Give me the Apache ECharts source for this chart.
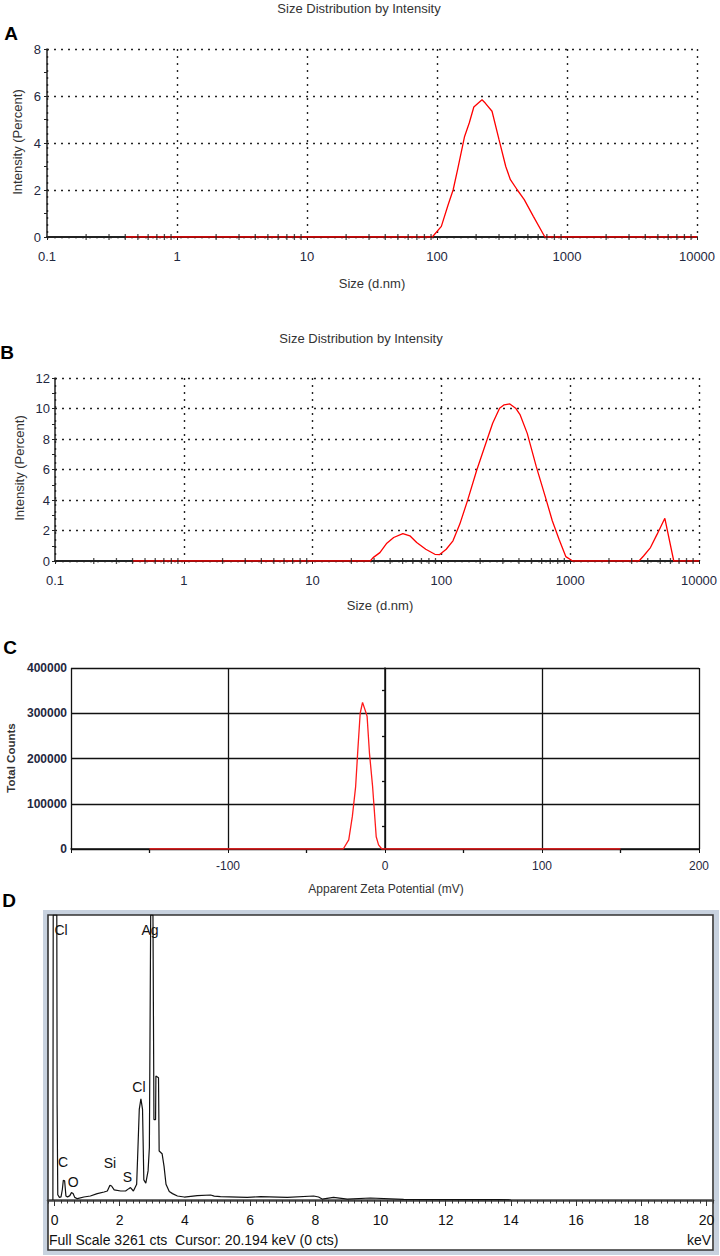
<!DOCTYPE html>
<html lang="en">
<head>
<meta charset="UTF-8">
<meta name="viewport" content="width=device-width, initial-scale=1.0">
<title>Size distribution, zeta potential and EDS spectrum</title>
<style>
    html, body {
        margin: 0;
        padding: 0;
        background: #fff;
    }
    #chart {
        width: 720px;
        height: 1256px;
    }
</style>
</head>
<body>
<div id="chart"></div>
<script src="https://cdn.jsdelivr.net/npm/echarts@6.0.0/dist/echarts.min.js"></script>
<script>
    // A: size distribution by intensity (size in d.nm, intensity in %)
    const sizeA = [0.4, 92, 108, 122, 133, 144, 163, 177, 192, 208, 222, 235, 265, 300, 338, 367, 415, 469, 551, 676, 10000];
    const intensityA = [0, 0, 0.45, 1.38, 2.0, 2.87, 4.28, 4.85, 5.53, 5.70, 5.84, 5.70, 5.35, 4.14, 3.0, 2.44, 2.0, 1.59, 0.88, 0, 0];

    // B: size distribution by intensity, second sample
    const sizeB = [0.4, 28, 29.5, 33.3, 37.7, 42.6, 50.2, 56.9, 64.3, 75.6, 89, 97, 109, 123, 139, 159.5, 188, 221, 250, 283,
        307, 340, 377, 409, 464, 546, 642, 726, 819, 924, 1046, 3420, 3711, 4200, 4733, 5430, 6370, 10000];
    const intensityB = [0, 0, 0.22, 0.55, 1.17, 1.54, 1.8, 1.65, 1.21, 0.77, 0.44, 0.42, 0.77, 1.32, 2.42, 3.96, 5.95, 7.71, 9.03, 10.02,
        10.24, 10.3, 10.02, 9.58, 8.37, 6.17, 4.19, 2.64, 1.43, 0.29, 0, 0, 0.33, 0.88, 1.76, 2.8, 0, 0];

    // C: apparent zeta potential (mV) vs total counts
    const zetaC = [-150, -26.6, -23.1, -20.8, -18.7, -17.3, -15.8, -14.3, -12.0, -11.4, -9.9, -7.9, -5.6, -4.1, -2.0, 150];
    const countsC = [0, 0, 20000, 72000, 138000, 219000, 300000, 324000, 300000, 293000, 212000, 138000, 27000, 9000, 0, 0];

    // D: EDS spectrum (keV vs counts), full scale 3261 cts
    const energyD = [-0.05, -0.04, 0.07, 0.08, 0.10, 0.15, 0.20, 0.24, 0.27, 0.31, 0.35, 0.40, 0.47, 0.52, 0.57, 0.62, 0.70, 0.90,
        1.10, 1.31, 1.52, 1.62, 1.70, 1.75, 1.83, 2.03, 2.18, 2.28, 2.33, 2.42, 2.52, 2.56, 2.60, 2.65, 2.70, 2.74, 2.80, 2.87,
        2.91, 2.95, 3.02, 3.05, 3.10, 3.11, 3.19, 3.21, 3.30, 3.36, 3.42, 3.52, 3.62, 3.77, 3.98, 4.38, 4.79, 4.90, 5.09, 5.91,
        6.32, 7.14, 7.95, 8.10, 8.21, 8.56, 8.98, 9.69, 10.71, 12.55, 13.60, 14.00];
    const countsD = [0, 3261, 3261, 1080, 60, 30, 35, 120, 226, 220, 46, 34, 50, 84, 75, 30, 15, 34,
        46, 73, 92, 103, 168, 160, 115, 103, 103, 130, 142, 103, 180, 600, 1036, 1158, 1036, 230, 192, 333,
        600, 3261, 3261, 920, 920, 1420, 1400, 560, 530, 384, 180, 96, 73, 46, 34, 50, 57, 45, 38, 31,
        38, 31, 46, 34, 11, 31, 11, 23, 8, 4, 6, 0];
    const edsFullScale = 3261;

    // element labels of the EDS peaks (keV, cts where the label sits)
    const edsPeakNames = ['Cl', 'Ag', 'Cl', 'C', 'O', 'Si', 'S'];
    const edsPeakKeV = [0.2, 2.93, 2.59, 0.26, 0.57, 1.70, 2.24];
    const edsPeakCts = [3090, 3090, 1290, 435, 206, 423, 263];

    // tick labels
    const sizeDecades = [0.1, 1, 10, 100, 1000, 10000];
    const sizeSubSteps = [2, 3, 4, 5, 6, 7, 8, 9];

    const FONT = '"Liberation Sans", Arial, sans-serif';
    const LABEL = '#1f2840';
    const zip = (xs, ys) => xs.map((x, i) => [x, ys[i]]);
    const plain = v => String(+(+v).toFixed(4));
    const dotted = { color: '#222', width: 1.4, type: [2, 5] };
    const solid = { color: '#111', width: 1.3, type: 'solid' };

    // little marks at 2..9 of every decade on the log axes
    const logMarks = sizeDecades.slice(0, -1).flatMap(d => sizeSubSteps.map(k => [d * k, 0]));

    function sizeXAxis(gridIndex) {
        return {
            gridIndex, type: 'log', logBase: 10, min: 0.1, max: 10000,
            axisLine: { show: true, onZero: false, lineStyle: { color: '#222', width: 2 } },
            axisTick: { show: true, length: 3, lineStyle: { color: '#222' } },
            axisLabel: { margin: 13, fontSize: 13, fontFamily: FONT, color: LABEL, formatter: plain },
            splitLine: { show: true, lineStyle: dotted }
        };
    }

    function percentYAxis(gridIndex, max, margin) {
        return {
            gridIndex, type: 'value', min: 0, max, interval: 2,
            axisLine: { show: true, lineStyle: { color: '#222', width: 1.5 } },
            axisTick: { show: true, length: 3, lineStyle: { color: '#222' } },
            minorTick: { show: true, splitNumber: 2, length: 3, lineStyle: { color: '#222' } },
            axisLabel: { margin, fontSize: 13, fontFamily: FONT, color: LABEL },
            splitLine: { show: true, lineStyle: dotted }
        };
    }

    function text(x, y, str, font, fill, extra) {
        return Object.assign({
            type: 'text', x, y, silent: true,
            style: {
                text: str, font, fill: fill || '#333',
                align: 'center', verticalAlign: 'middle',
                textAlign: 'center', textVerticalAlign: 'middle'
            }
        }, extra || {});
    }

    const chart = echarts.init(document.getElementById('chart'), null, { renderer: 'svg' });

    const option = {
        backgroundColor: '#fff',
        animation: false,
        grid: [
            { left: 47, top: 49, width: 650, height: 188, outerBoundsMode: 'none' },
            { left: 55, top: 378, width: 644, height: 183, outerBoundsMode: 'none' },
            { left: 71, top: 668, width: 628, height: 181, outerBoundsMode: 'none' },
            { left: 48, top: 915, width: 665, height: 285, outerBoundsMode: 'none' }
        ],
        xAxis: [
            sizeXAxis(0),
            sizeXAxis(1),
            {
                gridIndex: 2, type: 'value', min: -200, max: 200, interval: 100,
                axisLine: { show: true, onZero: false, lineStyle: { color: '#111', width: 1.5 } },
                axisTick: { show: true, length: 4, lineStyle: { color: '#111' } },
                minorTick: { show: true, splitNumber: 2, length: 4, lineStyle: { color: '#111', width: 1.3 } },
                axisLabel: { margin: 11, fontSize: 12, fontFamily: FONT, color: LABEL, showMinLabel: false, formatter: plain },
                splitLine: { show: true, lineStyle: solid }
            },
            {
                gridIndex: 3, type: 'value', position: 'bottom', min: -0.2, max: 20.2, splitNumber: 10,
                axisLine: { show: true, onZero: false, lineStyle: { color: '#444', width: 2.5 } },
                axisTick: { show: true, length: 6, lineStyle: { color: '#333' } },
                axisLabel: {
                    margin: 13, fontSize: 14, fontFamily: FONT, color: '#111',
                    showMinLabel: false, showMaxLabel: false,
                    formatter: v => (Number.isInteger(+v) ? String(+v) : '')
                },
                splitLine: { show: false }
            },
            {
                gridIndex: 3, type: 'value', position: 'bottom', min: -0.2, max: 20.2, interval: 0.2,
                axisLine: { show: false },
                axisTick: { show: true, length: 3.5, lineStyle: { color: '#333' } },
                axisLabel: { show: false },
                splitLine: { show: false }
            }
        ],
        yAxis: [
            percentYAxis(0, 8, 6),
            percentYAxis(1, 12, 5),
            {
                gridIndex: 2, type: 'value', min: 0, max: 400000, interval: 100000,
                axisLine: { show: true, lineStyle: { color: '#111', width: 1.5 } },
                axisTick: { show: true, length: 3, lineStyle: { color: '#111' } },
                minorTick: { show: true, splitNumber: 2, length: 3, lineStyle: { color: '#111', width: 1.3 } },
                axisLabel: { margin: 4, fontSize: 12, fontFamily: FONT, color: LABEL, fontWeight: 'bold', formatter: plain },
                splitLine: { show: true, lineStyle: solid }
            },
            { gridIndex: 3, type: 'value', min: 0, max: edsFullScale, show: false }
        ],
        series: [
            {
                type: 'line', xAxisIndex: 0, yAxisIndex: 0, data: zip(sizeA, intensityA),
                symbol: 'none', lineStyle: { color: '#ff0000', width: 1.3 }, z: 3
            },
            {
                type: 'scatter', xAxisIndex: 0, yAxisIndex: 0, data: logMarks, silent: true,
                symbol: 'rect', symbolSize: [1.3, 6], itemStyle: { color: '#222' }, z: 4
            },
            {
                type: 'line', xAxisIndex: 1, yAxisIndex: 1, data: zip(sizeB, intensityB),
                symbol: 'none', lineStyle: { color: '#ff0000', width: 1.3 }, z: 3
            },
            {
                type: 'scatter', xAxisIndex: 1, yAxisIndex: 1, data: logMarks, silent: true,
                symbol: 'rect', symbolSize: [1.3, 6], itemStyle: { color: '#222' }, z: 4
            },
            {
                type: 'line', xAxisIndex: 2, yAxisIndex: 2, data: zip(zetaC, countsC),
                symbol: 'none', lineStyle: { color: '#ff1a1a', width: 1.3 }, z: 3
            },
            {
                type: 'line', xAxisIndex: 3, yAxisIndex: 3, data: zip(energyD, countsD),
                symbol: 'none', clip: true, lineStyle: { color: '#111', width: 1.2 }, z: 3
            },
            {
                type: 'scatter', xAxisIndex: 3, yAxisIndex: 3, silent: true,
                data: edsPeakNames.map((n, i) => ({ name: n, value: [edsPeakKeV[i], edsPeakCts[i]] })),
                symbolSize: 1, itemStyle: { color: 'rgba(0,0,0,0)' },
                label: {
                    show: true, position: 'inside', formatter: '{b}', fontSize: 14, fontFamily: FONT,
                    color: '#111', textBorderWidth: 0, opacity: 1
                },
                z: 5
            }
        ],
        graphic: [
            // panel A
            text(359, 8, 'Size Distribution by Intensity', '13px ' + FONT),
            text(11, 33, 'A', 'bold 19px ' + FONT, '#000'),
            text(17, 142, 'Intensity (Percent)', '13px ' + FONT, '#333', { rotation: Math.PI / 2 }),
            text(372, 283, 'Size (d.nm)', '13px ' + FONT),
            // panel B
            text(361, 338, 'Size Distribution by Intensity', '13px ' + FONT),
            text(7, 352, 'B', 'bold 19px ' + FONT, '#000'),
            text(19, 468, 'Intensity (Percent)', '13px ' + FONT, '#333', { rotation: Math.PI / 2 }),
            text(380, 605, 'Size (d.nm)', '13px ' + FONT),
            // panel C
            text(10, 647, 'C', 'bold 19px ' + FONT, '#000'),
            text(11, 758, 'Total Counts', 'bold 11.5px ' + FONT, '#333', { rotation: Math.PI / 2 }),
            text(386, 889, 'Apparent Zeta Potential (mV)', '12px ' + FONT),
            // panel D frame
            {
                type: 'rect', z: -2, silent: true,
                shape: { x: 45.5, y: 912.5, width: 671, height: 340 },
                style: { fill: 'none', stroke: '#c8d2df', lineWidth: 5 }
            },
            {
                type: 'rect', z: -1, silent: true,
                shape: { x: 48, y: 915, width: 665, height: 335 },
                style: { fill: 'none', stroke: '#333', lineWidth: 1.6 }
            },
            text(9, 900, 'D', 'bold 19px ' + FONT, '#000'),
            {
                type: 'text', x: 49, y: 1240, silent: true,
                style: {
                    text: 'Full Scale 3261 cts  Cursor: 20.194 keV (0 cts)', font: '14px ' + FONT, fill: '#111',
                    align: 'left', verticalAlign: 'middle', textAlign: 'left', textVerticalAlign: 'middle'
                }
            },
            {
                type: 'text', x: 711, y: 1240, silent: true,
                style: {
                    text: 'keV', font: '14px ' + FONT, fill: '#111',
                    align: 'right', verticalAlign: 'middle', textAlign: 'right', textVerticalAlign: 'middle'
                }
            }
        ]
    };

    chart.setOption(option);
</script>
</body>
</html>
